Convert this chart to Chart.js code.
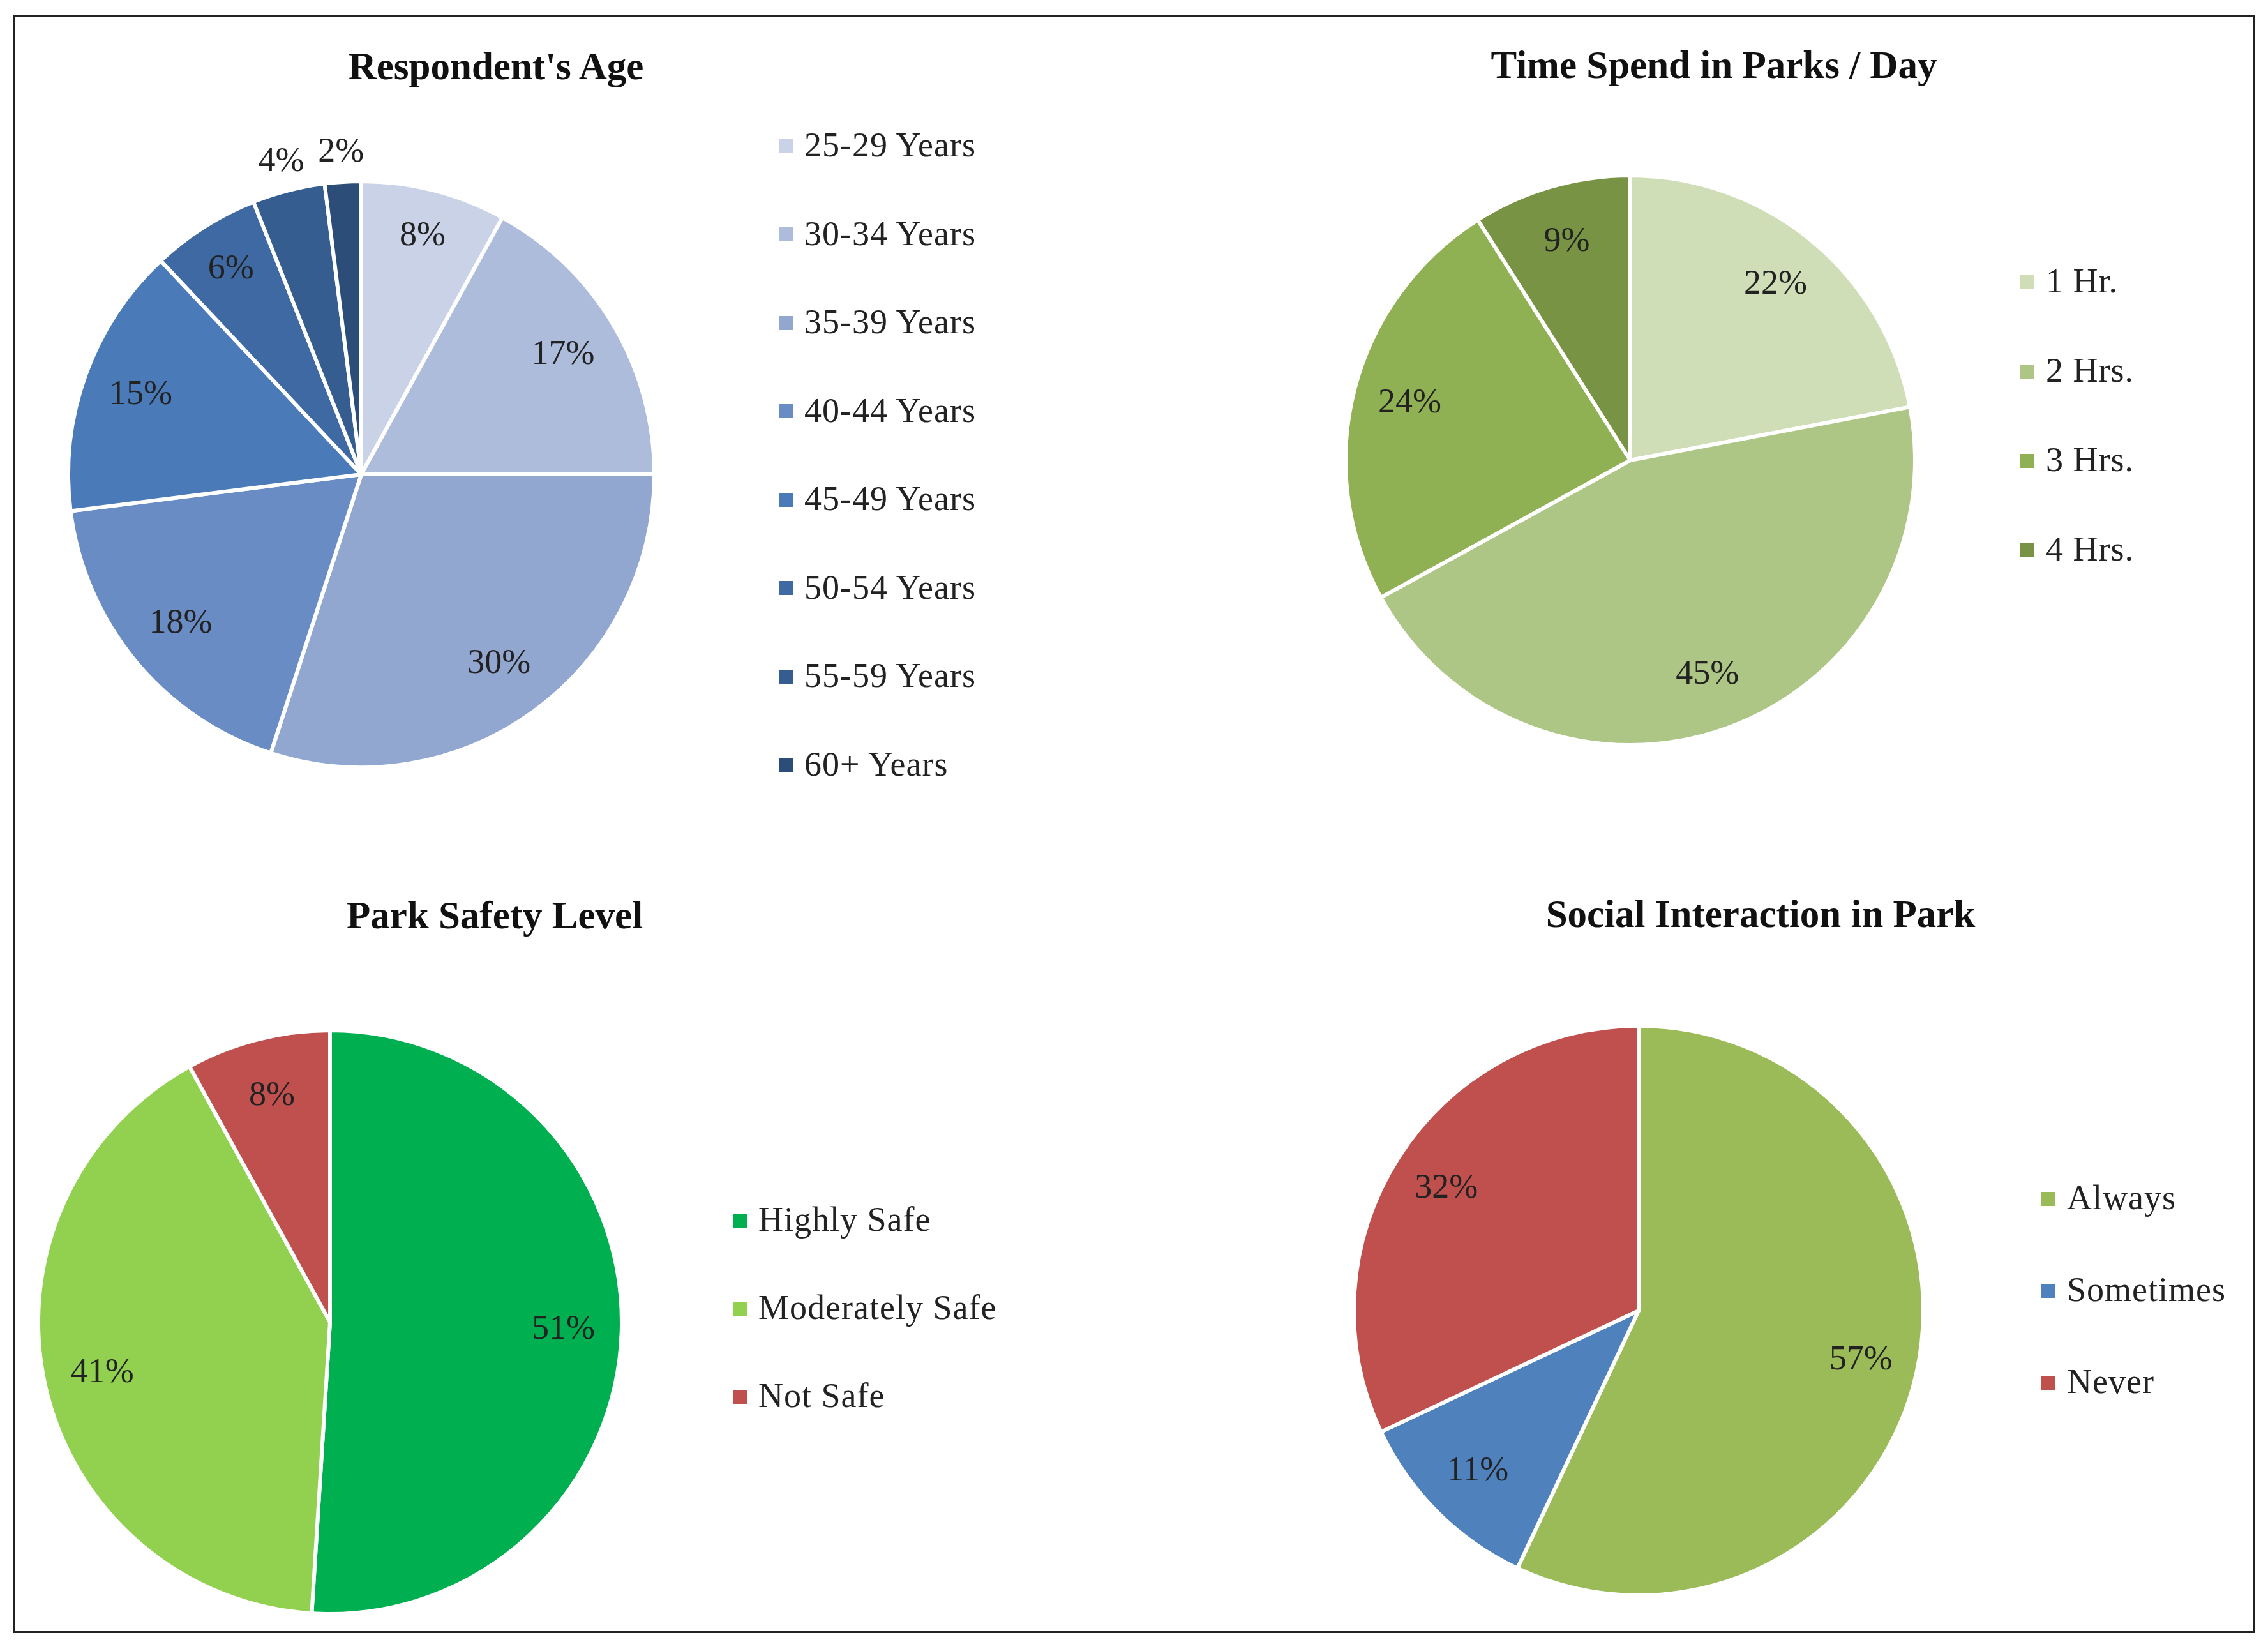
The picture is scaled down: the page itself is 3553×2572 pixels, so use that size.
<!DOCTYPE html>
<html>
<head>
<meta charset="utf-8">
<script src="https://cdn.jsdelivr.net/npm/chart.js@4"></script>
<style>
  body { margin: 0; background: #fff; width: 3553px; height: 2572px; position: relative; font-family: "Liberation Serif", serif; }
  #frame { position: absolute; left: 20px; top: 23px; width: 3507px; height: 2529px; border: 3px solid #222; }
  .box { position: absolute; }
  .title { position: absolute; transform: translate(-50%, -50%); font-weight: bold; font-size: 61px; color: #111; white-space: nowrap; }
  .legend { position: absolute; font-size: 54px; color: #222; letter-spacing: 1px; }
  .legend div { position: absolute; white-space: nowrap; transform: translateY(-50%); }
  .legend span { display: inline-block; width: 22px; height: 22px; margin-right: 18px; vertical-align: middle; position: relative; top: -4px; }
</style>
</head>
<body>
<div id="frame"></div>
<script>
// --- data ---
const ageLabels = ['25-29 Years', '30-34 Years', '35-39 Years', '40-44 Years', '45-49 Years', '50-54 Years', '55-59 Years', '60+ Years'];
const ageValues = [8, 17, 30, 18, 15, 6, 4, 2];
const ageColors = ['#c9d2e6', '#adbcdb', '#92a7d0', '#6a8cc4', '#4a7ab8', '#3f69a3', '#365d8f', '#2c4d78'];

const timeLabels = ['1 Hr.', '2 Hrs.', '3 Hrs.', '4 Hrs.'];
const timeValues = [22, 45, 24, 9];
const timeColors = ['#d0deb8', '#adc686', '#8fb053', '#789344'];

const safetyLabels = ['Highly Safe', 'Moderately Safe', 'Not Safe'];
const safetyValues = [51, 41, 8];
const safetyColors = ['#00b050', '#92d050', '#c0504d'];

const socialLabels = ['Always', 'Sometimes', 'Never'];
const socialValues = [57, 11, 32];
const socialColors = ['#9bbb59', '#4f81bd', '#c0504d'];

// percentage labels drawn at a fraction of the radius
const pctPlugin = {
  id: 'pct',
  afterDatasetsDraw(chart) {
    const ctx = chart.ctx;
    const ds = chart.data.datasets[0];
    const fr = chart.options.plugins.pct.radii || [];
    ctx.save();
    ctx.font = '54px "Liberation Serif"';
    ctx.fillStyle = '#222';
    ctx.textAlign = 'center';
    ctx.textBaseline = 'middle';
    chart.getDatasetMeta(0).data.forEach((arc, i) => {
      const p = arc.getProps(['x', 'y', 'startAngle', 'endAngle', 'outerRadius'], true);
      const a = (p.startAngle + p.endAngle) / 2;
      const r = p.outerRadius * (fr[i] || 0.8);
      ctx.fillText(ds.data[i] + '%', p.x + Math.cos(a) * r, p.y + Math.sin(a) * r);
    });
    ctx.restore();
  }
};

function makePie(cx, cy, r, labels, values, colors, radii) {
  const pad = 130;
  const size = 2 * r + 2 * pad;
  const box = document.createElement('div');
  box.className = 'box';
  box.style.left = (cx - r - pad) + 'px';
  box.style.top = (cy - r - pad) + 'px';
  box.style.width = size + 'px';
  box.style.height = size + 'px';
  const cv = document.createElement('canvas');
  cv.width = size; cv.height = size;
  cv.style.width = size + 'px'; cv.style.height = size + 'px';
  box.appendChild(cv);
  document.body.appendChild(box);
  new Chart(cv, {
    type: 'pie',
    data: { labels: labels, datasets: [{ data: values, backgroundColor: colors, borderColor: '#fff', borderWidth: 6 }] },
    options: {
      responsive: false, animation: false, maintainAspectRatio: false, devicePixelRatio: 1,
      layout: { padding: pad },
      plugins: { legend: { display: false }, tooltip: { enabled: false }, pct: { radii: radii } }
    },
    plugins: [pctPlugin]
  });
}

function makeTitle(x, y, text) {
  const t = document.createElement('div');
  t.className = 'title';
  t.style.left = x + 'px'; t.style.top = y + 'px';
  t.textContent = text;
  document.body.appendChild(t);
}

function makeLegend(x, y, step, labels, colors) {
  const l = document.createElement('div');
  l.className = 'legend';
  l.style.left = x + 'px'; l.style.top = y + 'px';
  labels.forEach((lab, i) => {
    const d = document.createElement('div');
    d.style.top = (i * step) + 'px';
    d.innerHTML = '<span style="background:' + colors[i] + '"></span>' + lab;
    l.appendChild(d);
  });
  document.body.appendChild(l);
}

makeTitle(777, 104, "Respondent's Age");
makePie(566, 743, 462, ageLabels, ageValues, ageColors, [0.84, 0.8, 0.8, 0.8, 0.8, 0.83, 1.1, 1.1]);
makeLegend(1220, 227, 138.5, ageLabels, ageColors);

makeTitle(2685, 102, 'Time Spend in Parks / Day');
makePie(2554, 721, 449, timeLabels, timeValues, timeColors);
makeLegend(3165, 440, 140, timeLabels, timeColors);

makeTitle(775, 1434, 'Park Safety Level');
makePie(517, 2071, 460, safetyLabels, safetyValues, safetyColors);
makeLegend(1148, 1910, 138, safetyLabels, safetyColors);

makeTitle(2758, 1432, 'Social Interaction in Park');
makePie(2567, 2053, 449, socialLabels, socialValues, socialColors);
makeLegend(3198, 1876, 144, socialLabels, socialColors);
</script>
</body>
</html>
